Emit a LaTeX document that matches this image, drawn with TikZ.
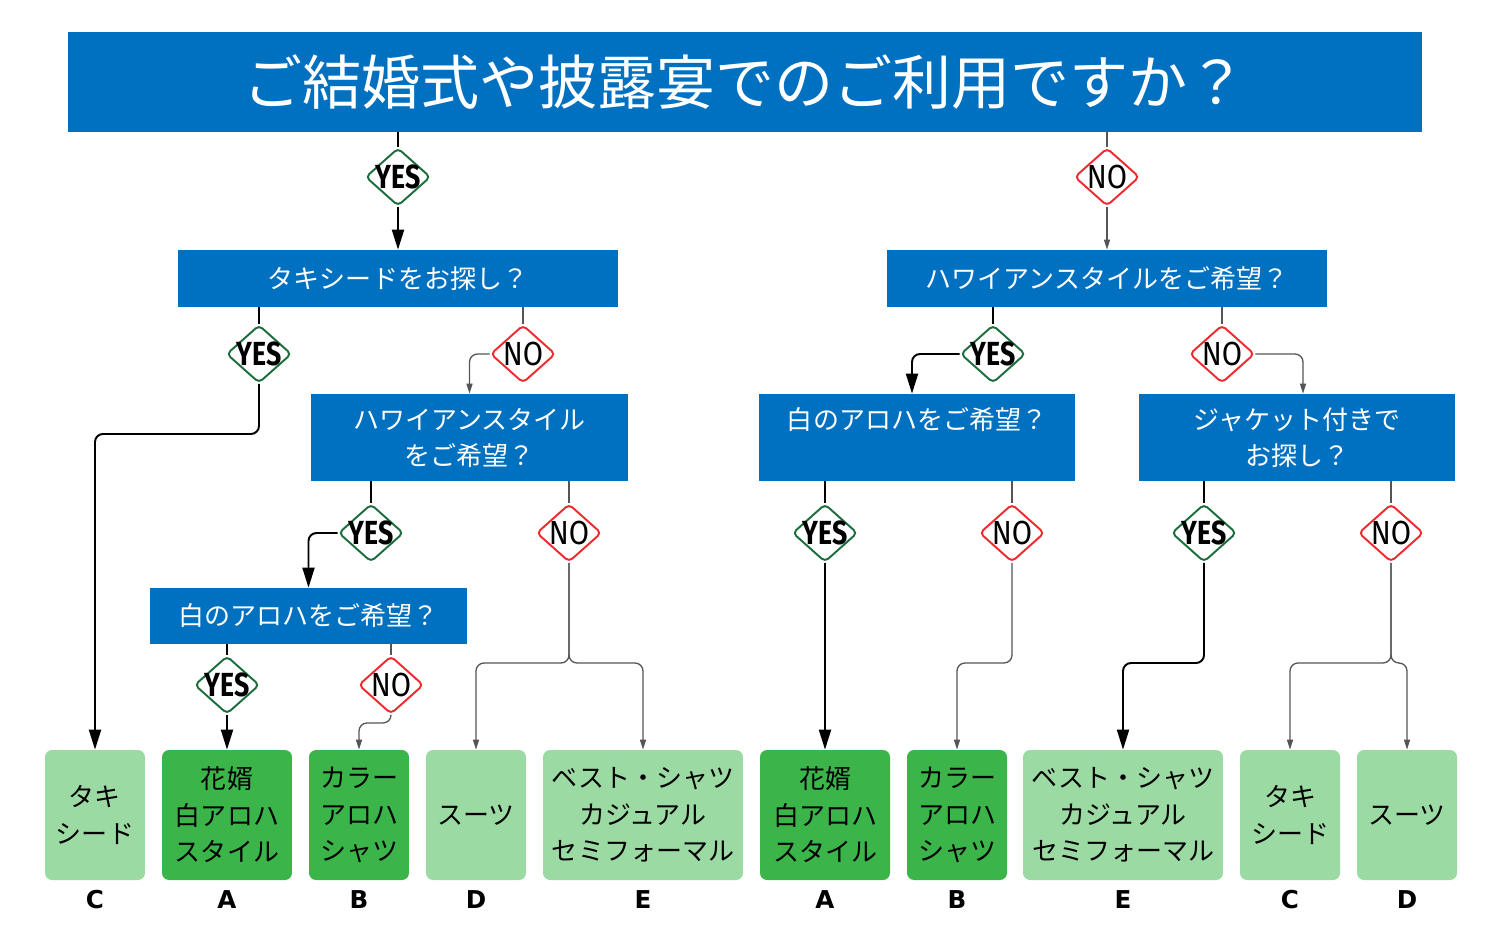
\documentclass[tikz,border=0pt]{standalone}
\usepackage{fontspec}
\setmainfont{Noto Sans CJK JP}
\newfontfamily\yesfont[FakeStretch=0.8]{Fira Sans}
\newfontfamily\nofont[FakeStretch=0.88]{Fira Sans}
\newfontfamily\letterfont{DejaVu Sans}
\usetikzlibrary{shapes,arrows,arrows.meta,positioning,calc}
\definecolor{qblue}{HTML}{0070C0}
\definecolor{ygreen}{HTML}{1B6E3C}
\definecolor{nred}{HTML}{EE2A2F}
\definecolor{agreen}{HTML}{3BB54A}
\definecolor{lgreen}{HTML}{9CDAA3}
\definecolor{nogray}{HTML}{555555}

\begin{document}
\begin{tikzpicture}[x=0.02cm, y=-0.02cm]
  \tikzstyle{title}=[rectangle, fill=qblue, text=white, minimum width=27.08cm, minimum height=2cm, inner sep=0pt, font=\fontsize{33.6}{40}\selectfont]
  \tikzstyle{question}=[rectangle, fill=qblue, text=white, inner sep=0pt, align=center, font=\fontsize{14.8}{20.5}\selectfont]
  \tikzstyle{wideq}=[question, minimum width=8.8cm, minimum height=1.14cm]
  \tikzstyle{twoq}=[question, minimum width=6.34cm, minimum height=1.74cm]
  \tikzstyle{yesdia}=[diamond, draw=ygreen, line width=1.1pt, fill=white, minimum width=1.3cm, minimum height=1.16cm, inner sep=0pt, rounded corners=2.5pt, font=\yesfont\bfseries\fontsize{19}{19}\selectfont]
  \tikzstyle{nodia}=[yesdia, draw=nred, font=\nofont\fontsize{19}{19}\selectfont]
  \tikzstyle{answer}=[rectangle, rounded corners=0.14cm, minimum height=2.6cm, inner sep=0pt, align=center, font=\fontsize{14.8}{20.8}\selectfont]
  \tikzstyle{darkans}=[answer, fill=agreen]
  \tikzstyle{lightans}=[answer, fill=lgreen]
  \tikzstyle{letter}=[inner sep=0pt, font=\letterfont\bfseries\fontsize{14}{14}\selectfont]
  \tikzstyle{yesline}=[line width=1.1pt, black, rounded corners=0.16cm]
  \tikzstyle{yesarrow}=[yesline, -{Triangle[length=0.4cm,width=0.24cm]}]
  \tikzstyle{noline}=[line width=0.75pt, nogray, rounded corners=0.16cm]
  \tikzstyle{noarrow}=[noline, -{Triangle[length=0.2cm,width=0.12cm]}]

  \useasboundingbox (0,0) rectangle (1500,947);

  \node[title] (title) at (745,82) {ご結婚式や披露宴でのご利用ですか？};

  \node[wideq] (tux) at (398,278.5) {タキシードをお探し？};
  \node[wideq] (hawaii) at (1107,278.5) {ハワイアンスタイルをご希望？};
  \node[twoq] (hawaiiL) at (469.5,437.5) {ハワイアンスタイル\\をご希望？};
  \node[twoq] (alohaR) at (917,437.5) {白のアロハをご希望？\\\phantom{白}};
  \node[twoq] (jacket) at (1297,437.5) {ジャケット付きで\\お探し？};
  \node[question, minimum width=6.34cm, minimum height=1.12cm] (alohaL) at (308.5,616) {白のアロハをご希望？};

  \node[yesdia] (y0) at (398,177) {\makebox[0pt]{YES}};
  \node[nodia] (n0) at (1107,177) {\makebox[0pt]{NO}};
  \node[yesdia] (y1) at (259,354) {\makebox[0pt]{YES}};
  \node[nodia] (n1) at (523,354) {\makebox[0pt]{NO}};
  \node[yesdia] (y2) at (371,533) {\makebox[0pt]{YES}};
  \node[nodia] (n2) at (569,533) {\makebox[0pt]{NO}};
  \node[yesdia] (y3) at (227,685) {\makebox[0pt]{YES}};
  \node[nodia] (n3) at (391,685) {\makebox[0pt]{NO}};
  \node[yesdia] (y4) at (993,354) {\makebox[0pt]{YES}};
  \node[nodia] (n4) at (1222,354) {\makebox[0pt]{NO}};
  \node[yesdia] (y5) at (825,533) {\makebox[0pt]{YES}};
  \node[nodia] (n5) at (1012,533) {\makebox[0pt]{NO}};
  \node[yesdia] (y6) at (1204,533) {\makebox[0pt]{YES}};
  \node[nodia] (n6) at (1391,533) {\makebox[0pt]{NO}};

  \node[lightans, minimum width=2cm] (ansC1) at (95,815) {タキ\\シード};
  \node[darkans, minimum width=2.6cm] (ansA1) at (227,815) {花婿\\白アロハ\\スタイル};
  \node[darkans, minimum width=2cm] (ansB1) at (359,815) {カラー\\アロハ\\シャツ};
  \node[lightans, minimum width=2cm] (ansD1) at (476,815) {スーツ};
  \node[lightans, minimum width=4cm] (ansE1) at (643,815) {ベスト・シャツ\\カジュアル\\セミフォーマル};
  \node[darkans, minimum width=2.6cm] (ansA2) at (825,815) {花婿\\白アロハ\\スタイル};
  \node[darkans, minimum width=2cm] (ansB2) at (957,815) {カラー\\アロハ\\シャツ};
  \node[lightans, minimum width=4cm] (ansE2) at (1123,815) {ベスト・シャツ\\カジュアル\\セミフォーマル};
  \node[lightans, minimum width=2cm] (ansC2) at (1290,815) {タキ\\シード};
  \node[lightans, minimum width=2cm] (ansD2) at (1407,815) {スーツ};

  \node[letter, below=0.2cm of ansC1] (letC1) {C};
  \node[letter, below=0.2cm of ansA1] (letA1) {A};
  \node[letter, below=0.2cm of ansB1] (letB1) {B};
  \node[letter, below=0.2cm of ansD1] (letD1) {D};
  \node[letter, below=0.2cm of ansE1] (letE1) {E};
  \node[letter, below=0.2cm of ansA2] (letA2) {A};
  \node[letter, below=0.2cm of ansB2] (letB2) {B};
  \node[letter, below=0.2cm of ansE2] (letE2) {E};
  \node[letter, below=0.2cm of ansC2] (letC2) {C};
  \node[letter, below=0.2cm of ansD2] (letD2) {D};

  \coordinate (jn2) at (569,663);
  \coordinate (jn5) at (1012,663);
  \coordinate (jy6) at (1204,663);
  \coordinate (jn6) at (1391,663);

  \draw[yesline] (title.south -| y0) -- (y0.north);
  \draw[yesarrow] (y0.south) -- (tux.north -| y0);
  \draw[noline] (title.south -| n0) -- (n0.north);
  \draw[noarrow] (n0.south) -- (hawaii.north -| n0);

  \draw[yesline] (tux.south -| y1) -- (y1.north);
  \draw[yesarrow] (y1.south) -- ++(0,50) -| (ansC1.north);
  \draw[noline] (tux.south -| n1) -- (n1.north);
  \draw[noarrow] (n1.west) -| (hawaiiL.north);

  \draw[yesline] (hawaiiL.south -| y2) -- (y2.north);
  \draw[yesarrow] (y2.west) -| (alohaL.north);
  \draw[noline] (hawaiiL.south -| n2) -- (n2.north);
  \draw[noarrow] (n2.south) -- (jn2) -| (ansD1.north);
  \draw[noarrow] (n2.south) -- (jn2) -| (ansE1.north);

  \draw[yesline] (alohaL.south -| y3) -- (y3.north);
  \draw[yesarrow] (y3.south) -- (ansA1.north);
  \draw[noline] (alohaL.south -| n3) -- (n3.north);
  \draw[noarrow] (n3.south) -- ++(0,8) -| (ansB1.north);

  \draw[yesline] (hawaii.south -| y4) -- (y4.north);
  \draw[yesarrow] (y4.west) -| ([xshift=-0.1cm]alohaR.north);
  \draw[noline] (hawaii.south -| n4) -- (n4.north);
  \draw[noarrow] (n4.east) -| ([xshift=0.12cm]jacket.north);

  \draw[yesline] (alohaR.south -| y5) -- (y5.north);
  \draw[yesarrow] (y5.south) -- (ansA2.north);
  \draw[noline] (alohaR.south -| n5) -- (n5.north);
  \draw[noarrow] (n5.south) -- (jn5) -| (ansB2.north);

  \draw[yesline] (jacket.south -| y6) -- (y6.north);
  \draw[yesarrow] (y6.south) -- (jy6) -| (ansE2.north);
  \draw[noline] (jacket.south -| n6) -- (n6.north);
  \draw[noarrow] (n6.south) -- (jn6) -| (ansC2.north);
  \draw[noarrow] (n6.south) -- (jn6) -| (ansD2.north);
\end{tikzpicture}
\end{document}
